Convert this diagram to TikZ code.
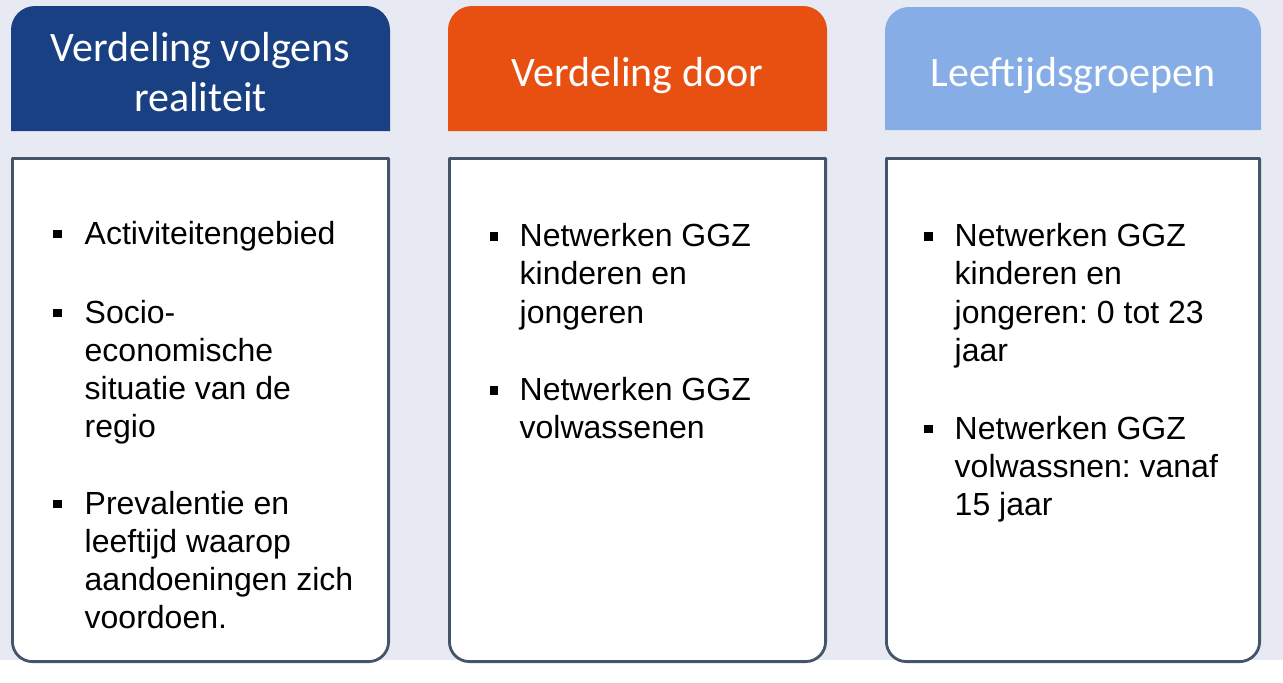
\documentclass[tikz,border=0pt]{standalone}
\usepackage{fontspec}
\setmainfont{Liberation Sans}
\newfontfamily\hdrfont{Carlito}
\definecolor{bgpanel}{HTML}{E7EAF2}
\definecolor{hdrblue}{HTML}{1A4084}
\definecolor{hdrorange}{HTML}{E85012}
\definecolor{hdrlight}{HTML}{86ADE6}
\definecolor{cardline}{HTML}{44546A}
\newcommand{\cardlines}[1]{\parbox[t]{340pt}{\fontsize{32}{38.3}\selectfont\frenchspacing\raggedright #1}}
\newcommand{\hdrlines}[1]{\parbox[t]{370pt}{\centering\hdrfont\fontsize{42}{50}\selectfont #1}}
\begin{document}
\begin{tikzpicture}[x=1pt,y=-1pt,
  hdrtext/.style={text=white, inner sep=0pt, anchor=base},
  itemtext/.style={text=black, inner sep=0pt, anchor=base west},
  bul/.style={fill=black, minimum size=8.5pt, inner sep=0pt, outer sep=0pt},
  card/.style={draw=cardline, line width=2.8pt, fill=white, line join=round}]
% page and panel
\fill[white] (0,0) rectangle (1283,683);
\useasboundingbox (0,0) rectangle (1283,683);
\fill[bgpanel] (0,0) rectangle (1283,660);
% headers
\fill[hdrblue] (11,131) [rounded corners=24pt] -- (11,6) -- (390,6) [sharp corners] -- (390,131) -- cycle;
\fill[hdrorange] (448,131) [rounded corners=24pt] -- (448,6) -- (827,6) [sharp corners] -- (827,131) -- cycle;
\fill[hdrlight] (885,130) [rounded corners=24pt] -- (885,7) -- (1261,7) [sharp corners] -- (1261,130) -- cycle;
\node[hdrtext] (h1) at (200.5,61) {\hdrlines{Verdeling volgens\\realiteit}};
\node[hdrtext] (h2) at (637.5,86) {\hdrlines{Verdeling door}};
\node[hdrtext] (h3) at (1073,86) {\hdrlines{Leeftijdsgroepen}};
% cards
\draw[card] (12.4,158.4) [rounded corners=20pt] -- (12.4,661.6) -- (388.6,661.6) [sharp corners] -- (388.6,158.4) -- cycle;
\draw[card] (449.4,158.4) [rounded corners=20pt] -- (449.4,661.6) -- (825.6,661.6) [sharp corners] -- (825.6,158.4) -- cycle;
\draw[card] (886.4,158.4) [rounded corners=20pt] -- (886.4,661.6) -- (1259.6,661.6) [sharp corners] -- (1259.6,158.4) -- cycle;
% card 1
\node[bul] (b11) at (57.5,234) {};
\node[itemtext] (t11) at (84.5,244) {\cardlines{Activiteitengebied}};
\node[bul] (b12) at (57.5,313) {};
\node[itemtext] (t12) at (84.5,323) {\cardlines{Socio-\\economische\\situatie van de\\regio}};
\node[bul] (b13) at (57.5,504) {};
\node[itemtext] (t13) at (84.5,514) {\cardlines{Prevalentie en\\leeftijd waarop\\aandoeningen zich\\voordoen.}};
% card 2
\node[bul] (b21) at (494,236.5) {};
\node[itemtext] (t21) at (519.5,246.5) {\cardlines{Netwerken GGZ\\kinderen en\\jongeren}};
\node[bul] (b22) at (494,390.5) {};
\node[itemtext] (t22) at (519.5,400.5) {\cardlines{Netwerken GGZ\\volwassenen}};
% card 3
\node[bul] (b31) at (928.5,236.5) {};
\node[itemtext] (t31) at (954.5,246.5) {\cardlines{Netwerken GGZ\\kinderen en\\jongeren: 0 tot 23\\jaar}};
\node[bul] (b32) at (928.5,429) {};
\node[itemtext] (t32) at (954.5,439) {\cardlines{Netwerken GGZ\\volwassnen: vanaf\\15 jaar}};
\end{tikzpicture}
\end{document}
